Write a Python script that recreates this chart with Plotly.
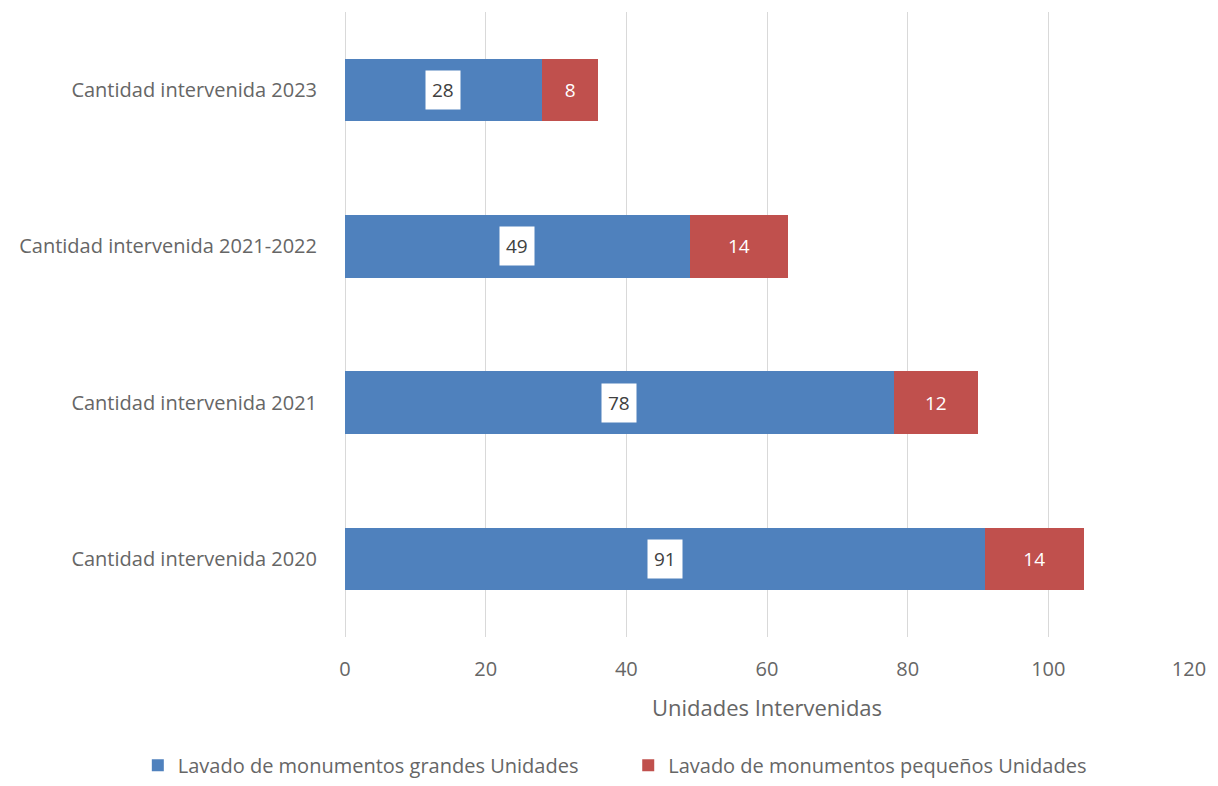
import plotly.graph_objects as go

categories = ["Cantidad intervenida 2020", "Cantidad intervenida 2021",
              "Cantidad intervenida 2021-2022", "Cantidad intervenida 2023"]
grandes = [91, 78, 49, 28]
pequenos = [14, 12, 14, 8]
series_names = ["Lavado de monumentos grandes Unidades",
                "Lavado de monumentos pequeños Unidades"]
x_ticks = [0, 20, 40, 60, 80, 100, 120]

BLUE = "#4F81BD"
RED = "#C0504D"
FONT = "'Open Sans', Lato, sans-serif"
GREY = "#666666"

fig = go.Figure()
fig.add_trace(go.Bar(
    y=categories, x=grandes, orientation="h", name=series_names[0],
    marker=dict(color=BLUE, line=dict(width=0)), width=0.4,
    legend="legend",
))
fig.add_trace(go.Bar(
    y=categories, x=pequenos, orientation="h", name=series_names[1],
    marker=dict(color=RED, line=dict(width=0)), width=0.4,
    text=[str(v) for v in pequenos], textposition="inside",
    insidetextanchor="middle", textangle=0,
    insidetextfont=dict(color="white", size=19, family=FONT),
    legend="legend2",
))

for c, g in zip(categories, grandes):
    fig.add_annotation(x=g / 2, y=c, xref="x", yref="y", text=str(g),
                       showarrow=False, bgcolor="white",
                       font=dict(color="#404040", size=19, family=FONT),
                       borderpad=6)

legend_common = dict(orientation="h", xref="container", yref="container",
                     xanchor="left", y=0.0165, yanchor="middle",
                     font=dict(size=20, color=GREY), itemwidth=30,
                     bgcolor="rgba(0,0,0,0)")

fig.update_layout(
    barmode="stack",
    width=1202, height=770,
    margin=dict(l=337, r=18, t=4, b=141),
    plot_bgcolor="white", paper_bgcolor="white",
    font=dict(family=FONT, color=GREY, size=16),
    bargap=0.6,
    showlegend=True,
    legend=dict(x=0.108, **legend_common),
    legend2=dict(x=0.516, **legend_common),
    xaxis=dict(range=[0, 120], tickvals=x_ticks, showgrid=True,
               gridcolor="#D9D9D9", gridwidth=1, zeroline=True,
               zerolinecolor="#D9D9D9", zerolinewidth=1,
               showline=False, ticks="", ticklabelstandoff=18,
               tickfont=dict(size=20, color=GREY),
               title=dict(text="Unidades Intervenidas", standoff=19,
                          font=dict(size=22, color=GREY))),
    yaxis=dict(showgrid=False, zeroline=False, showline=False,
               ticks="", ticklabelstandoff=27,
               tickfont=dict(size=20, color=GREY), automargin=False),
)

fig.write_html("out.html")
